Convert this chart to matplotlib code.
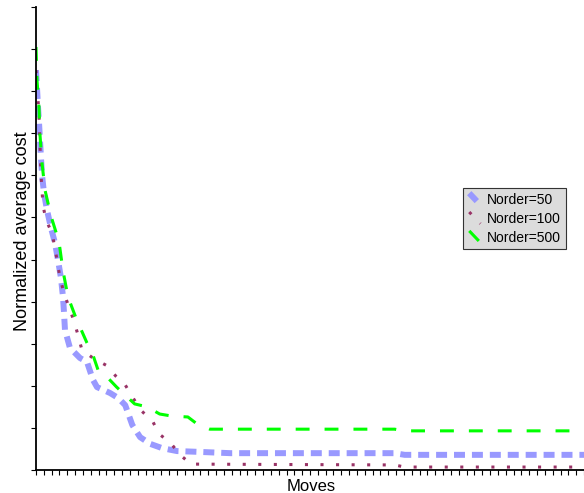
import numpy as np
import matplotlib
matplotlib.use('Agg')
import matplotlib.pyplot as plt
from matplotlib.legend_handler import HandlerLine2D
from matplotlib.lines import Line2D

plt.rcParams['font.family'] = ['Liberation Sans', 'DejaVu Sans']
plt.rcParams['lines.scale_dashes'] = False

# Norder=50
x50 = [0, 0.13, 0.26, 0.38, 0.51, 0.64, 0.77, 1.02, 1.4, 1.92, 2.43, 2.81, 3.19, 3.45,
       3.58, 3.7, 4.34, 5.62, 6.51, 7.28, 7.79, 9.45, 10.5, 11.4, 12.3, 13.3, 14.6,
       16.1, 18.0, 20.9, 24.8, 45.8, 47.1, 70]
y50 = [0.950, 0.907, 0.862, 0.827, 0.784, 0.741, 0.701, 0.658, 0.618, 0.575, 0.539,
       0.499, 0.456, 0.411, 0.373, 0.333, 0.290, 0.266, 0.257, 0.214, 0.197, 0.183,
       0.171, 0.154, 0.107, 0.078, 0.062, 0.052, 0.045, 0.043, 0.040, 0.040, 0.036, 0.036]

# Norder=100
x100 = [0, 0.13, 0.26, 0.38, 0.51, 0.64, 0.89, 1.28, 2.04, 2.43, 3.07, 3.58, 4.21,
        4.85, 5.36, 5.87, 7.28, 8.94, 10.2, 11.4, 12.4, 13.5, 14.9, 15.7, 17.2, 18.4,
        19.8, 45.8, 47.1, 70]
y100 = [0.950, 0.914, 0.879, 0.843, 0.772, 0.701, 0.629, 0.594, 0.563, 0.527, 0.456,
        0.420, 0.387, 0.354, 0.321, 0.285, 0.266, 0.249, 0.223, 0.202, 0.171, 0.140,
        0.116, 0.086, 0.064, 0.036, 0.014, 0.012, 0.007, 0.007]

# Norder=500
x500 = [0, 0.13, 0.38, 0.51, 0.77, 1.15, 1.92, 2.94, 3.45, 4.09, 5.11, 6.51, 7.15,
        7.92, 8.81, 10.3, 11.1, 12.6, 14.2, 15.8, 17.4, 19.4, 20.6, 22.2, 45.8, 47.1, 70]
y500 = [1.005, 0.926, 0.862, 0.796, 0.729, 0.665, 0.603, 0.542, 0.473, 0.411, 0.361,
        0.302, 0.280, 0.238, 0.226, 0.197, 0.183, 0.157, 0.150, 0.133, 0.128, 0.126,
        0.109, 0.097, 0.097, 0.093, 0.093]


class DiagHandler(HandlerLine2D):
    # legend sample drawn as a short diagonal
    def create_artists(self, legend, orig_handle, xdescent, ydescent,
                       width, height, fontsize, trans):
        x0 = -xdescent + width * 0.1
        x1 = -xdescent + width * 0.9
        y0 = -ydescent + height * 1.1
        y1 = -ydescent - height * 0.1
        line = Line2D([x0, x1], [y0, y1])
        self.update_prop(line, orig_handle, legend)
        line.set_transform(trans)
        return [line]


fig = plt.figure(figsize=(5.84, 4.93), dpi=100)
ax = fig.add_axes([36/584, 23/493, 548/584, 463/493])

l1, = ax.plot(x50, y50, color='#9999ff', lw=4.3, label='Norder=50')
l1.set_dashes((7.9, 5.0))
l2, = ax.plot(x100, y100, color='#993366', lw=2.2, label='Norder=100')
l2.set_dashes((2.2, 9.0))
l3, = ax.plot(x500, y500, color='#00ff00', lw=2.2, label='Norder=500')
l3.set_dashes((10.0, 10.8))

ax.set_xlim(0, 70)
ax.set_ylim(0, 1.1)
ax.set_xticks(np.arange(0, 71, 1))
ax.set_yticks(np.arange(0, 1.11, 0.1))
ax.set_xticklabels([])
ax.set_yticklabels([])
ax.tick_params(direction='out', length=3.5, width=0.8, color='black')
for s in ['top', 'right']:
    ax.spines[s].set_visible(False)
for s in ['left', 'bottom']:
    ax.spines[s].set_linewidth(1.3)

ax.set_xlabel('Moves', fontsize=12)
ax.xaxis.set_label_coords(0.503, -0.019)
ax.set_ylabel('Normalized average cost', fontsize=13)
ax.yaxis.set_label_coords(-0.01, 0.515)

leg = ax.legend(handler_map={Line2D: DiagHandler()},
                loc='upper left', bbox_to_anchor=(463/584, 1 - 188/493),
                bbox_transform=fig.transFigure, borderaxespad=0,
                fontsize=10, handlelength=1.0, handletextpad=0.4,
                labelspacing=0.35, borderpad=0.35,
                fancybox=False, framealpha=1, facecolor='#dcdcdc',
                edgecolor='#333333')
leg.get_frame().set_linewidth(0.8)

fig.savefig('out.png', dpi=100)
